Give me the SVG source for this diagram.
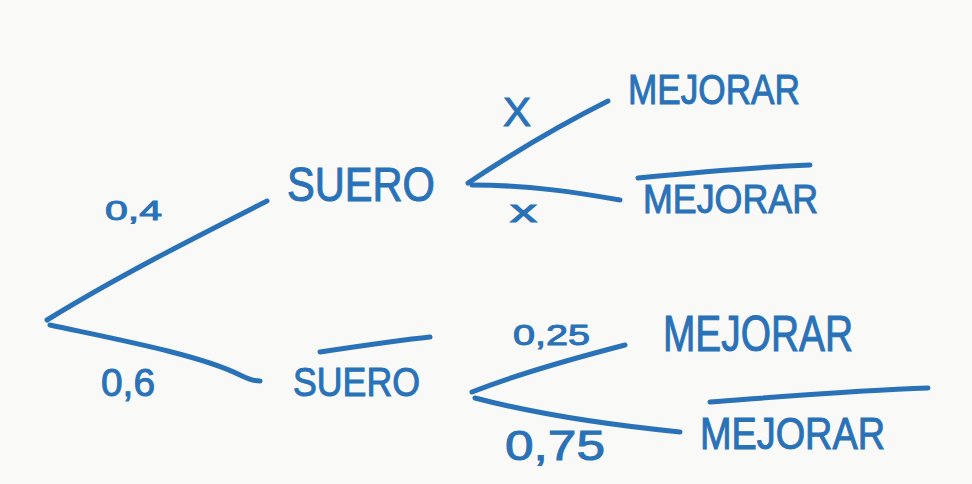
<svg xmlns="http://www.w3.org/2000/svg" width="972" height="484" viewBox="0 0 972 484">
<style>
.ln{fill:none;stroke:#2a72b8;stroke-width:5;stroke-linecap:round;stroke-linejoin:round}
.t{fill:#2a72b8;stroke:#2a72b8;stroke-width:1;font-family:"Liberation Sans","DejaVu Sans",sans-serif}
</style>
<rect x="0" y="0" width="972" height="484" fill="#f9f9f8"/>
<g id="connectors">
<path class="ln" d="M47,320 C120,275 200,235 267,201"/>
<path class="ln" d="M50,325 C120,340 200,355 240,375 C250,380 255,381 260,381"/>
<path class="ln" d="M468,183 C510,155 560,125 608,101"/>
<path class="ln" d="M472,185 C530,185 580,193 620,200"/>
<path class="ln" d="M472,392 C520,373 575,358 625,345"/>
<path class="ln" d="M475,398 C540,415 610,425 680,432"/>
</g>
<g id="label-04"><text class="t" x="105" y="220" font-size="28" textLength="57" lengthAdjust="spacingAndGlyphs">0,4</text></g>
<g id="label-06"><text class="t" x="101" y="396" font-size="38" textLength="54" lengthAdjust="spacingAndGlyphs">0,6</text></g>
<g id="node-suero"><text class="t" x="287" y="201" font-size="48" textLength="148" lengthAdjust="spacingAndGlyphs">SUERO</text></g>
<g id="node-no-suero">
<path class="ln" d="M320,352 C360,346 400,340 430,337"/>
<text class="t" x="293" y="396" font-size="40" textLength="127" lengthAdjust="spacingAndGlyphs">SUERO</text>
</g>
<g id="label-x-top"><text class="t" x="503" y="126" font-size="40" textLength="28" lengthAdjust="spacingAndGlyphs">X</text></g>
<g id="label-x-bottom"><text class="t" x="510" y="222" font-size="31" textLength="27" lengthAdjust="spacingAndGlyphs">x</text></g>
<g id="node-mejorar-1"><text class="t" x="628" y="104" font-size="42" textLength="172" lengthAdjust="spacingAndGlyphs">MEJORAR</text></g>
<g id="node-no-mejorar-1">
<path class="ln" d="M638,178 C700,172 760,167 810,165"/>
<text class="t" x="643" y="213" font-size="40" textLength="175" lengthAdjust="spacingAndGlyphs">MEJORAR</text>
</g>
<g id="label-025"><text class="t" x="513" y="345" font-size="30" textLength="77" lengthAdjust="spacingAndGlyphs">0,25</text></g>
<g id="label-075"><text class="t" x="505" y="460" font-size="42" textLength="100" lengthAdjust="spacingAndGlyphs">0,75</text></g>
<g id="node-mejorar-2"><text class="t" x="663" y="351" font-size="50" textLength="190" lengthAdjust="spacingAndGlyphs">MEJORAR</text></g>
<g id="node-no-mejorar-2">
<path class="ln" d="M710,402 C790,396 860,390 928,388"/>
<text class="t" x="700" y="449" font-size="44" textLength="185" lengthAdjust="spacingAndGlyphs">MEJORAR</text>
</g>
</svg>
